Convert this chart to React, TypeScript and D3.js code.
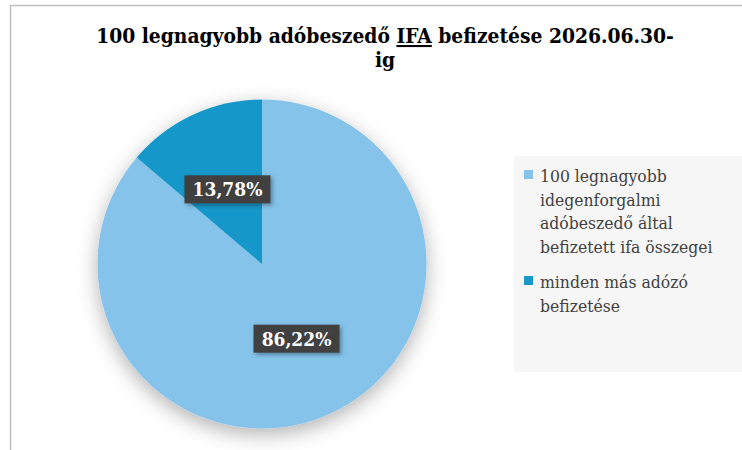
import React from "react";
import * as d3 from "d3";

const categories = [
  "100 legnagyobb idegenforgalmi adóbeszedő által befizetett ifa összegei",
  "minden más adózó befizetése",
];
const values = [86.22, 13.78];
const valueLabels = ["86,22%", "13,78%"];
const legendLines = [
  ["100 legnagyobb", "idegenforgalmi", "adóbeszedő által", "befizetett ifa összegei"],
  ["minden más adózó", "befizetése"],
];
const colors = ["#85C3EB", "#1897C9"];

const W = 742;
const H = 450;
const FONT = "'DejaVu Serif Condensed', 'DejaVu Serif', serif";

export default function App() {
  const cx = 262;
  const cy = 264;
  const R = 164.5;
  const pie = d3.pie<number>().sort(null).value((d) => d);
  const arcs = pie(values);
  const arc = d3.arc<d3.PieArcDatum<number>>().innerRadius(0).outerRadius(R);
  const labelArc = d3.arc<d3.PieArcDatum<number>>().innerRadius(R * 0.5).outerRadius(R * 0.5);

  return (
    <svg width={W} height={H} style={{ position: "absolute", left: 0, top: 0 }} fontFamily={FONT}>
      <defs>
        <filter id="pieShadow" x="-30%" y="-30%" width="160%" height="160%">
          <feDropShadow dx="0" dy="6" stdDeviation="10" floodColor="#000" floodOpacity="0.3" />
        </filter>
        <filter id="boxShadow" x="-30%" y="-30%" width="160%" height="160%">
          <feDropShadow dx="2" dy="2" stdDeviation="2" floodColor="#000" floodOpacity="0.35" />
        </filter>
      </defs>
      <rect x={0} y={0} width={W} height={H} fill="#fff" />
      <path d={`M10.5,${H} V5.5 H${W}`} fill="none" stroke="#BFBFBF" strokeWidth={1.5} />
      <text x={385} y={43} textAnchor="middle" fontSize={20.8} fontWeight="bold" fill="#000">
        100 legnagyobb adóbeszedő <tspan textDecoration="underline">IFA</tspan> befizetése 2026.06.30-
      </text>
      <text x={385} y={67} textAnchor="middle" fontSize={20.8} fontWeight="bold" fill="#000">
        ig
      </text>
      <g transform={`translate(${cx},${cy})`}>
        <g filter="url(#pieShadow)">
          {arcs.map((a, i) => (
            <path key={i} d={arc(a) || ""} fill={colors[i]} />
          ))}
        </g>
        {arcs.map((a, i) => {
          const [lx, ly] = labelArc.centroid(a);
          const bw = 86;
          const bh = 28;
          return (
            <g key={"l" + i} transform={`translate(${lx},${ly})`}>
              <rect x={-bw / 2} y={-bh / 2} width={bw} height={bh} fill="#404040" filter="url(#boxShadow)" />
              <text x={0} y={7} textAnchor="middle" fontSize={19} fontWeight="bold" fill="#fff">
                {valueLabels[i]}
              </text>
            </g>
          );
        })}
      </g>
      <rect x={514} y={156} width={W - 514} height={216} fill="#F6F6F6" />
      {legendLines.map((lines, i) => {
        const y0 = i === 0 ? 182 : 288;
        return (
          <g key={"lg" + i}>
            <title>{categories[i]}</title>
            <rect x={524} y={y0 - 12} width={9} height={9} fill={colors[i]} />
            {lines.map((t, j) => (
              <text key={j} x={540} y={y0 + j * 23.5} fontSize={17.4} fill="#404040">
                {t}
              </text>
            ))}
          </g>
        );
      })}
    </svg>
  );
}
